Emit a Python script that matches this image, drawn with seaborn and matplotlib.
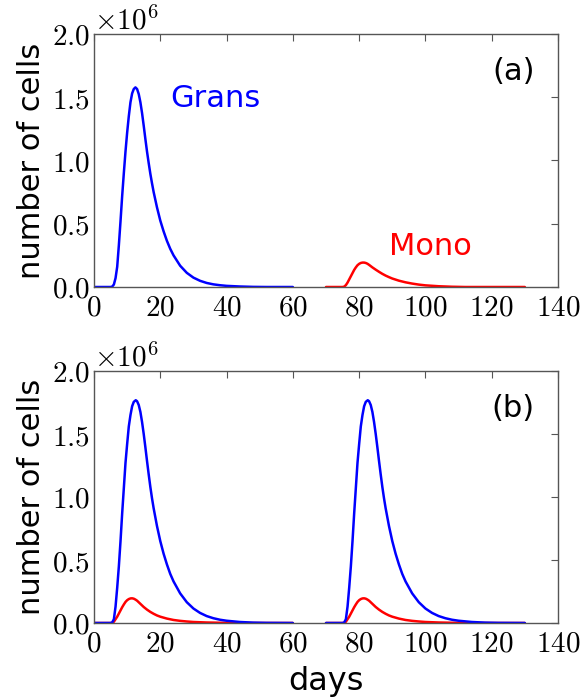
import numpy as np
import pandas as pd
import matplotlib
matplotlib.use("Agg")
import matplotlib.pyplot as plt
from matplotlib.ticker import FuncFormatter
import seaborn as sns

# ---------------- data (cells, in units of 1e6) ----------------
# Panel (a): Grans, days 0-60
days_a_grans = [0, 5.0, 5.5, 6.0, 6.5, 7.0, 7.5, 8.0, 8.5, 9.0, 9.5, 10.0, 10.5, 11.0,
                11.5, 12.0, 12.5, 13.0, 13.5, 14.0, 14.5, 15.0, 15.5, 16.0, 16.5, 17.0,
                17.5, 18.0, 19.0, 20.0, 21.0, 22.0, 23.0, 24.0, 26.0, 28.0, 30.0, 32.0,
                34.0, 36.0, 38.0, 40.0, 44.0, 48.0, 52.0, 60.0]
grans_a = [0, 0.000, 0.003, 0.02, 0.07, 0.16, 0.33, 0.52, 0.72, 0.90, 1.07, 1.22, 1.35, 1.46,
           1.53, 1.565, 1.578, 1.565, 1.525, 1.46, 1.375, 1.275, 1.17, 1.07, 0.98, 0.895,
           0.82, 0.75, 0.63, 0.525, 0.44, 0.365, 0.302, 0.25, 0.168, 0.112, 0.074, 0.049,
           0.032, 0.021, 0.014, 0.009, 0.004, 0.001, 0.0, 0.0]

# Panel (a): Mono, days 70-130
days_a_mono = [70, 75.0, 75.5, 76.0, 76.5, 77.0, 77.5, 78.0, 78.5, 79.0, 79.5, 80.0, 80.5,
               81.0, 81.5, 82.0, 82.5, 83.0, 84.0, 85.0, 86.0, 87.0, 88.0, 89.0, 90.0,
               92.0, 94.0, 96.0, 98.0, 100.0, 104.0, 108.0, 112.0, 130.0]
mono_a = [0, 0.0, 0.003, 0.015, 0.035, 0.06, 0.085, 0.11, 0.135, 0.155, 0.172, 0.183, 0.19,
          0.193, 0.193, 0.19, 0.184, 0.175, 0.155, 0.137, 0.12, 0.104, 0.09, 0.078, 0.067,
          0.05, 0.037, 0.027, 0.019, 0.013, 0.006, 0.002, 0.0, 0.0]

# Panel (b): Grans, two doses (days 0-60 and 70-130)
days_b_grans_1 = [0, 5.0, 5.5, 6.0, 6.5, 7.0, 7.5, 8.0, 8.5, 9.0, 9.5, 10.0, 10.5, 11.0,
                  11.5, 12.0, 12.6, 13.0, 13.5, 14.0, 14.5, 15.0, 15.5, 16.0, 16.5, 17.0,
                  17.5, 18.0, 19.0, 20.0, 21.0, 22.0, 23.0, 24.0, 26.0, 28.0, 30.0, 32.0,
                  34.0, 36.0, 38.0, 40.0, 44.0, 48.0, 52.0, 60.0]
days_b_grans_2 = [70, 75.0, 75.5, 76.0, 76.5, 77.0, 77.5, 78.0, 78.5, 79.0, 79.5, 80.0, 80.5,
                  81.0, 81.5, 82.0, 82.6, 83.0, 83.5, 84.0, 84.5, 85.0, 85.5, 86.0, 86.5,
                  87.0, 87.5, 88.0, 89.0, 90.0, 91.0, 92.0, 93.0, 94.0, 96.0, 98.0, 100.0,
                  102.0, 104.0, 106.0, 108.0, 110.0, 114.0, 118.0, 122.0, 130.0]
grans_b = [0, 0.0, 0.005, 0.03, 0.13, 0.28, 0.45, 0.65, 0.87, 1.07, 1.27, 1.42, 1.56, 1.65,
           1.72, 1.755, 1.768, 1.76, 1.73, 1.675, 1.595, 1.50, 1.395, 1.285, 1.18, 1.08,
           0.99, 0.91, 0.77, 0.65, 0.55, 0.465, 0.39, 0.33, 0.235, 0.165, 0.115, 0.08,
           0.055, 0.038, 0.026, 0.018, 0.008, 0.003, 0.001, 0.0]

# Panel (b): Mono, two doses
days_b_mono_1 = [0, 5.5, 6.0, 6.5, 7.0, 7.5, 8.0, 8.5, 9.0, 9.5, 10.0, 10.5, 11.0, 11.5,
                 12.0, 12.5, 13.0, 14.0, 15.0, 16.0, 17.0, 18.0, 19.0, 20.0, 22.0, 24.0,
                 26.0, 28.0, 30.0, 34.0, 38.0, 42.0, 46.0, 60.0]
days_b_mono_2 = [70, 75.5, 76.0, 76.5, 77.0, 77.5, 78.0, 78.5, 79.0, 79.5, 80.0, 80.5, 81.0,
                 81.5, 82.0, 82.5, 83.0, 84.0, 85.0, 86.0, 87.0, 88.0, 89.0, 90.0, 92.0,
                 94.0, 96.0, 98.0, 100.0, 104.0, 108.0, 112.0, 116.0, 130.0]
mono_b = [0, 0.0, 0.01, 0.03, 0.05, 0.075, 0.10, 0.125, 0.147, 0.167, 0.181, 0.19, 0.195,
          0.196, 0.193, 0.186, 0.177, 0.152, 0.127, 0.106, 0.088, 0.073, 0.06, 0.05,
          0.035, 0.024, 0.017, 0.012, 0.008, 0.004, 0.002, 0.001, 0.0, 0.0]

SCALE = 1e6  # y values above are in millions of cells

x_ticks = [0, 20, 40, 60, 80, 100, 120, 140]
y_ticks = [0.0, 0.5, 1.0, 1.5, 2.0]

# ---------------- style ----------------
sns.set_style("white")
plt.rcParams['font.family'] = ['DejaVu Sans']
plt.rcParams['mathtext.fontset'] = 'cm'
for k in ('text.color', 'axes.labelcolor', 'xtick.labelcolor', 'ytick.labelcolor'):
    plt.rcParams[k] = 'black'

BLUE = '#0000ff'
RED = '#ff0000'
LW = 1.8

fig = plt.figure(figsize=(5.82, 6.98), dpi=100)
W, H = 582, 698
ax_a = fig.add_axes([94 / W, (H - 287) / H, 464 / W, 253 / H])
ax_b = fig.add_axes([94 / W, (H - 623) / H, 464 / W, 252 / H])


def draw(ax, d, v, color):
    df = pd.DataFrame({'day': d, 'cells': np.asarray(v) * SCALE})
    sns.lineplot(data=df, x='day', y='cells', ax=ax, color=color, lw=LW,
                 estimator=None, sort=False)


# panel (a)
draw(ax_a, days_a_grans, grans_a, BLUE)
draw(ax_a, days_a_mono, mono_a, RED)
# panel (b): red first, blue on top
draw(ax_b, days_b_mono_1, mono_b, RED)
draw(ax_b, days_b_mono_2, mono_b, RED)
draw(ax_b, days_b_grans_1, grans_b, BLUE)
draw(ax_b, days_b_grans_2, grans_b, BLUE)

yfmt = FuncFormatter(lambda val, pos: r'$\mathbf{%.1f}$' % (val / SCALE))
xfmt = FuncFormatter(lambda val, pos: r'$\mathbf{%d}$' % round(val))

for ax, tag in ((ax_a, '(a)'), (ax_b, '(b)')):
    ax.set_xlim(0, 140)
    ax.set_ylim(0, 2.0 * SCALE)
    ax.set_xticks(x_ticks)
    ax.set_yticks([t * SCALE for t in y_ticks])
    ax.xaxis.set_major_formatter(xfmt)
    ax.yaxis.set_major_formatter(yfmt)
    ax.tick_params(axis='both', which='major', direction='in', top=True, right=True,
                   length=5, width=0.8, color='#555555', labelsize=21, pad=3)
    ax.tick_params(axis='x', pad=5)
    for s in ax.spines.values():
        s.set_color('#555555')
        s.set_linewidth(1.0)
    ax.set_xlabel('')
    ax.set_ylabel('number of cells', fontsize=22, labelpad=4)
    ax.text(0.0, 0.995, r'$\times 10^{6}$', transform=ax.transAxes, ha='left',
            va='bottom', fontsize=21)
    ax.text(0.95, 0.85, tag, transform=ax.transAxes, ha='right', va='center',
            fontsize=22)

ax_a.text(22.9, 1.42 * SCALE, 'Grans', color=BLUE, fontsize=22, ha='left', va='baseline')
ax_a.text(89.0, 0.25 * SCALE, 'Mono', color=RED, fontsize=22, ha='left', va='baseline')

fig.text(326 / W, 8 / H, 'days', ha='center', va='baseline', fontsize=23)

fig.savefig('out.png', dpi=100)
